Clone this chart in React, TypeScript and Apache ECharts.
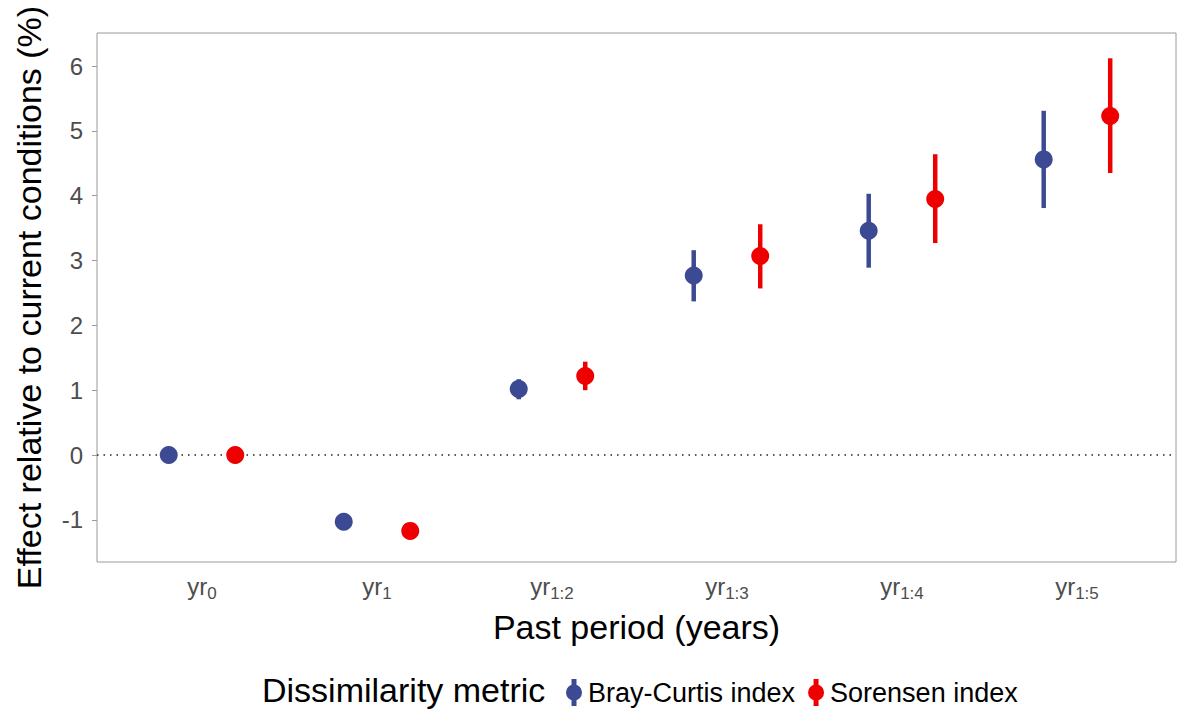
import React, { useEffect, useRef } from "react";
import * as echarts from "echarts";

const periods = ["0", "1", "1:2", "1:3", "1:4", "1:5"];
const yTicks = [-1, 0, 1, 2, 3, 4, 5, 6];

const brayMean = [0, -1.03, 1.02, 2.77, 3.46, 4.56];
const brayLow = [0, -1.12, 0.86, 2.37, 2.89, 3.81];
const brayHigh = [0, -0.92, 1.17, 3.16, 4.03, 5.31];

const sorMean = [0, -1.17, 1.22, 3.07, 3.95, 5.23];
const sorLow = [0, -1.22, 1.0, 2.57, 3.27, 4.35];
const sorHigh = [0, -1.12, 1.44, 3.56, 4.64, 6.12];

const BLUE = "#3B4A93";
const RED = "#EE0000";
const DODGE = 0.19;
const FONT = "Liberation Sans, Arial, sans-serif";

const legendIcon =
  "path://M5.5,0H10.5V27H5.5Z M0,13.5A8,8 0 1,1 16,13.5A8,8 0 1,1 0,13.5Z";

function errSeries(name: string, color: string, lo: number[], hi: number[], off: number) {
  return {
    name,
    type: "custom",
    itemStyle: { color },
    data: lo.map((l, i) => [i + off, l, hi[i]]),
    encode: { x: 0, y: [1, 2] },
    renderItem: (params: any, api: any) => {
      const x = api.value(0);
      const a = api.coord([x, api.value(1)]);
      const b = api.coord([x, api.value(2)]);
      return {
        type: "line",
        shape: { x1: a[0], y1: a[1], x2: b[0], y2: b[1] },
        style: { stroke: color, lineWidth: 4.5 },
      };
    },
    z: 2,
  };
}

export default function App() {
  const ref = useRef<HTMLDivElement>(null);
  useEffect(() => {
    document.body.style.margin = "0";
    document.body.style.overflow = "hidden";
    if (!ref.current) return;
    const chart = echarts.init(ref.current, undefined, { renderer: "svg" });
    chart.setOption({
      animation: false,
      backgroundColor: "#ffffff",
      textStyle: { fontFamily: FONT },
      grid: {
        left: 97,
        right: 2,
        top: 33,
        bottom: 153,
        show: true,
        borderColor: "#9a9a9a",
        borderWidth: 1,
      },
      xAxis: {
        type: "value",
        min: -0.6,
        max: 5.566,
        name: "Past period (years)",
        nameLocation: "middle",
        nameGap: 48,
        nameTextStyle: { fontSize: 34, color: "#000", fontFamily: FONT },
        axisLine: { show: false, onZero: false },
        axisTick: { show: false },
        splitLine: { show: false },
        axisLabel: {
          customValues: periods.map((_, i) => i),
          margin: 9,
          formatter: (v: number) => `{m|yr}{s|${periods[Math.round(v)]}}`,
          rich: {
            m: { fontSize: 24, color: "#4D4D4D", fontFamily: FONT },
            s: {
              fontSize: 17,
              color: "#4D4D4D",
              fontFamily: FONT,
              verticalAlign: "bottom",
              padding: [14, 0, 0, 0],
            },
          },
        },
      },
      yAxis: {
        type: "value",
        min: -1.65,
        max: 6.51,
        name: "Effect relative to current conditions (%)",
        nameLocation: "middle",
        nameGap: 51,
        nameTextStyle: { fontSize: 34, color: "#000", fontFamily: FONT },
        axisLine: { show: false, onZero: false },
        splitLine: { show: false },
        axisTick: {
          show: true,
          customValues: yTicks,
          length: 5,
          lineStyle: { color: "#9a9a9a", width: 1 },
        },
        axisLabel: {
          customValues: yTicks,
          fontSize: 24,
          color: "#4D4D4D",
          margin: 14,
          fontFamily: FONT,
        },
      },
      legend: {
        left: 561,
        top: 674,
        itemWidth: 16,
        itemHeight: 27,
        itemGap: 13,
        textStyle: {
          fontSize: 27,
          color: "#000",
          fontFamily: FONT,
          padding: [0, 0, 0, 1],
        },
        data: [
          { name: "Bray-Curtis index", icon: legendIcon },
          { name: "Sorensen index", icon: legendIcon },
        ],
      },
      graphic: [
        {
          type: "text",
          left: 262,
          top: 673,
          style: {
            text: "Dissimilarity metric",
            fontSize: 34,
            fill: "#000",
            fontFamily: FONT,
          },
        },
      ],
      series: [
        errSeries("Bray-Curtis index", BLUE, brayLow, brayHigh, -DODGE),
        errSeries("Sorensen index", RED, sorLow, sorHigh, DODGE),
        {
          name: "Bray-Curtis index",
          type: "scatter",
          symbolSize: 18,
          itemStyle: { color: BLUE, opacity: 1 },
          data: brayMean.map((v, i) => [i - DODGE, v]),
          z: 3,
          markLine: {
            silent: true,
            symbol: "none",
            label: { show: false },
            lineStyle: { color: "#222", type: [1.5, 5], width: 1.5 },
            data: [{ yAxis: 0 }],
            z: 1,
          },
        },
        {
          name: "Sorensen index",
          type: "scatter",
          symbolSize: 18,
          itemStyle: { color: RED, opacity: 1 },
          data: sorMean.map((v, i) => [i + DODGE, v]),
          z: 3,
        },
      ],
    });
    return () => chart.dispose();
  }, []);
  return <div ref={ref} style={{ width: 1178, height: 715 }} />;
}
